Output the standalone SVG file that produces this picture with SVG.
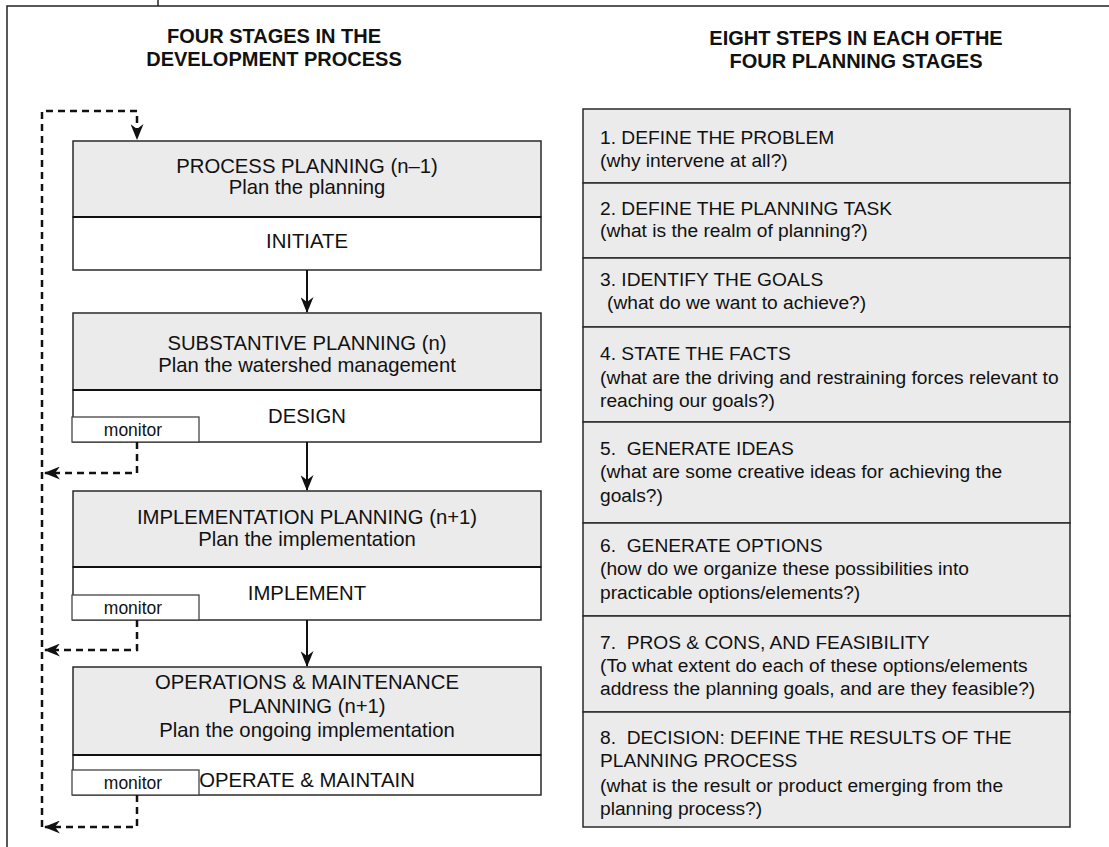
<svg xmlns="http://www.w3.org/2000/svg" width="1109" height="847" viewBox="0 0 1109 847">
<style>
text{font-family:"Liberation Sans",Arial,sans-serif;fill:#111;white-space:pre}
.h{font-size:20px;font-weight:bold;text-anchor:middle}
.l{font-size:20.3px;text-anchor:middle}
.r{font-size:19.2px}
.m{font-size:17.5px;text-anchor:middle}
.hdr{fill:#ebebeb;stroke:#2a2a2a;stroke-width:1.5}
.bot{fill:#fff;stroke:#2a2a2a;stroke-width:1.5}
.div{stroke:#111;stroke-width:2.2}
.mon{fill:#fff;stroke:#444;stroke-width:1.3}
.step{fill:#ebebeb;stroke:#2a2a2a;stroke-width:1.5}
.solid{fill:none;stroke:#111;stroke-width:2}
.dash{fill:none;stroke:#111;stroke-width:2.5;stroke-dasharray:7,5}
.frame{fill:none;stroke:#222;stroke-width:1.5}
</style>
<defs>
<marker id="ah" viewBox="0 0 16 13" refX="15" refY="6.5" markerWidth="16" markerHeight="13" markerUnits="userSpaceOnUse" orient="auto">
<path d="M0,0 L16,6.5 L0,13 L5,6.5 z" fill="#111"/>
</marker>
</defs>
<g id="frame">
<path class="frame" d="M7,847 V6 H1109 M158,0 V6"/>
</g>
<g id="headings">
<text class="h" x="274" y="43">FOUR STAGES IN THE</text>
<text class="h" x="274" y="66">DEVELOPMENT PROCESS</text>
<text class="h" x="856" y="45">EIGHT STEPS IN EACH OFTHE</text>
<text class="h" x="856" y="68">FOUR PLANNING STAGES</text>
</g>
<g id="stage1">
<rect class="hdr" x="73" y="141" width="468" height="76"/>
<rect class="bot" x="73" y="217" width="468" height="53"/>
<line class="div" x1="73" y1="217" x2="541" y2="217"/>
<text class="l" x="307" y="173">PROCESS PLANNING (n–1)</text>
<text class="l" x="307" y="194">Plan the planning</text>
<text class="l" x="307" y="248">INITIATE</text>
</g>
<g id="stage2">
<rect class="hdr" x="73" y="313" width="468" height="77"/>
<rect class="bot" x="73" y="390" width="468" height="52"/>
<line class="div" x1="73" y1="390" x2="541" y2="390"/>
<text class="l" x="307" y="349.5">SUBSTANTIVE PLANNING (n)</text>
<text class="l" x="307" y="372">Plan the watershed management</text>
<text class="l" x="307" y="423">DESIGN</text>
<rect class="mon" x="72" y="417" width="127" height="25"/>
<text class="m" x="133" y="436">monitor</text>
</g>
<g id="stage3">
<rect class="hdr" x="73" y="491" width="468" height="76"/>
<rect class="bot" x="73" y="567" width="468" height="53"/>
<line class="div" x1="73" y1="567" x2="541" y2="567"/>
<text class="l" x="307" y="523.5">IMPLEMENTATION PLANNING (n+1)</text>
<text class="l" x="307" y="546">Plan the implementation</text>
<text class="l" x="307" y="600">IMPLEMENT</text>
<rect class="mon" x="72" y="595" width="127" height="25"/>
<text class="m" x="133" y="614">monitor</text>
</g>
<g id="stage4">
<rect class="hdr" x="73" y="667" width="468" height="88"/>
<rect class="bot" x="73" y="755" width="468" height="40"/>
<line class="div" x1="73" y1="755" x2="541" y2="755"/>
<text class="l" x="307" y="689">OPERATIONS &amp; MAINTENANCE</text>
<text class="l" x="307" y="713">PLANNING (n+1)</text>
<text class="l" x="307" y="737">Plan the ongoing implementation</text>
<rect class="mon" x="72" y="770" width="127" height="25"/>
<text class="m" x="133" y="789">monitor</text>
<text class="l" x="307" y="787">OPERATE &amp; MAINTAIN</text>
</g>
<g id="steps">
<g id="step1"><rect class="step" x="583" y="109" width="487" height="74"/>
<text class="r" x="600" y="143.5">1. DEFINE THE PROBLEM</text>
<text class="r" x="600" y="166.5">(why intervene at all?)</text></g>
<g id="step2"><rect class="step" x="583" y="183" width="487" height="75"/>
<text class="r" x="600" y="215">2. DEFINE THE PLANNING TASK</text>
<text class="r" x="600" y="237">(what is the realm of planning?)</text></g>
<g id="step3"><rect class="step" x="583" y="258" width="487" height="69"/>
<text class="r" x="600" y="285.5">3. IDENTIFY THE GOALS</text>
<text class="r" x="607" y="308.5">(what do we want to achieve?)</text></g>
<g id="step4"><rect class="step" x="583" y="327" width="487" height="95"/>
<text class="r" x="600" y="360">4. STATE THE FACTS</text>
<text class="r" x="600" y="383.5">(what are the driving and restraining forces relevant to</text>
<text class="r" x="600" y="407">reaching our goals?)</text></g>
<g id="step5"><rect class="step" x="583" y="422" width="487" height="101"/>
<text class="r" x="600" y="454.5">5.  GENERATE IDEAS</text>
<text class="r" x="600" y="478">(what are some creative ideas for achieving the</text>
<text class="r" x="600" y="501.5">goals?)</text></g>
<g id="step6"><rect class="step" x="583" y="523" width="487" height="93"/>
<text class="r" x="600" y="552">6.  GENERATE OPTIONS</text>
<text class="r" x="600" y="575">(how do we organize these possibilities into</text>
<text class="r" x="600" y="598.5">practicable options/elements?)</text></g>
<g id="step7"><rect class="step" x="583" y="616" width="487" height="96"/>
<text class="r" x="600" y="648.5">7.  PROS &amp; CONS, AND FEASIBILITY</text>
<text class="r" x="600" y="672">(To what extent do each of these options/elements</text>
<text class="r" x="600" y="695">address the planning goals, and are they feasible?)</text></g>
<g id="step8"><rect class="step" x="583" y="712" width="487" height="115"/>
<text class="r" x="600" y="743.5">8.  DECISION: DEFINE THE RESULTS OF THE</text>
<text class="r" x="600" y="767">PLANNING PROCESS</text>
<text class="r" x="600" y="791.5">(what is the result or product emerging from the</text>
<text class="r" x="600" y="815">planning process?)</text></g>
</g>
<g id="connectors">
<line class="solid" x1="307" y1="270" x2="307" y2="312" marker-end="url(#ah)"/>
<line class="solid" x1="307" y1="442" x2="307" y2="490" marker-end="url(#ah)"/>
<line class="solid" x1="307" y1="620" x2="307" y2="666" marker-end="url(#ah)"/>
<path class="dash" d="M137,442 V473 H45" marker-end="url(#ah)"/>
<path class="dash" d="M137,620 V650 H45" marker-end="url(#ah)"/>
<path class="dash" d="M137,795 V827 H45" marker-end="url(#ah)"/>
<path class="dash" d="M42,827 V111 H137 V139" marker-end="url(#ah)"/>
</g>
</svg>
